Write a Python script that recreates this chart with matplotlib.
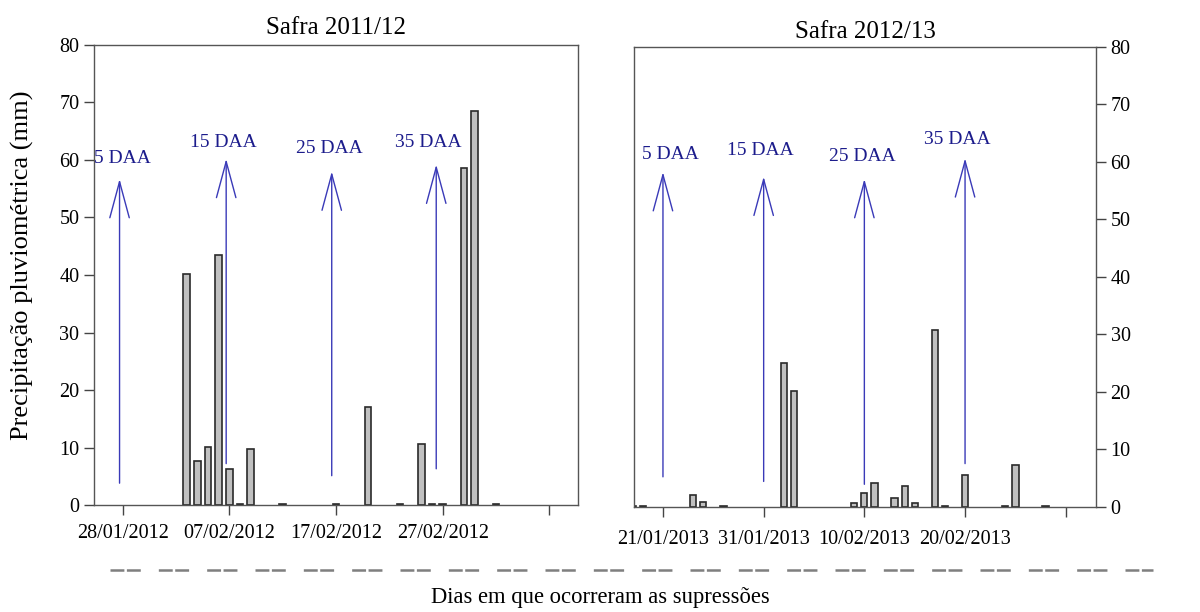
import numpy as np
import pandas as pd
import matplotlib
matplotlib.use('Agg')
import matplotlib.pyplot as plt
from matplotlib.lines import Line2D

plt.rcParams['font.family'] = ['Liberation Serif', 'DejaVu Serif']

# Safra 2011/12 - chuva diaria (mm)
datas_1112 = ['03/02/2012', '04/02/2012', '05/02/2012', '06/02/2012', '07/02/2012',
              '08/02/2012', '09/02/2012', '12/02/2012', '17/02/2012', '20/02/2012',
              '23/02/2012', '25/02/2012', '26/02/2012', '27/02/2012', '29/02/2012',
              '01/03/2012', '03/03/2012']
chuva_1112 = [40.1, 7.6, 10.1, 43.4, 6.2, 0.2, 9.7, 0.2, 0.2, 17.0,
              0.2, 10.6, 0.2, 0.2, 58.6, 68.6, 0.2]

# Safra 2012/13 - chuva diaria (mm)
datas_1213 = ['18/01/2013', '19/01/2013', '24/01/2013', '25/01/2013', '27/01/2013',
              '02/02/2013', '03/02/2013', '09/02/2013', '10/02/2013', '11/02/2013',
              '13/02/2013', '14/02/2013', '15/02/2013', '17/02/2013', '18/02/2013',
              '20/02/2013', '24/02/2013', '25/02/2013', '28/02/2013']
chuva_1213 = [0.2, 0.2, 2.0, 0.8, 0.2, 25.0, 20.2, 0.6, 2.4, 4.1,
              1.6, 3.6, 0.6, 30.8, 0.2, 5.6, 0.2, 7.2, 0.2]

# ticks do eixo x
ticks_1112 = ['28/01/2012', '07/02/2012', '17/02/2012', '27/02/2012', '08/03/2012']
ticks_1213 = ['21/01/2013', '31/01/2013', '10/02/2013', '20/02/2013', '02/03/2013']

# setas das supressoes (DAA): posicao em dias a partir do 1o tick, base, topo
daa_labels = ['5 DAA', '15 DAA', '25 DAA', '35 DAA']
seta_x_1112 = [-0.3, 9.7, 19.6, 29.4]
seta_base_1112 = [3.8, 7.2, 5.1, 6.3]
seta_topo_1112 = [56.7, 60.2, 58.0, 59.2]
txt_x_1112 = [0.0, 9.4, 19.4, 28.7]
txt_y_1112 = [60.3, 63.0, 62.0, 63.0]

seta_x_1213 = [0.0, 10.0, 20.0, 30.0]
seta_base_1213 = [5.2, 4.4, 3.9, 7.5]
seta_topo_1213 = [58.2, 57.4, 57.0, 60.6]
txt_x_1213 = [0.7, 9.7, 19.8, 29.2]
txt_y_1213 = [61.3, 62.0, 60.9, 63.8]


def dias(datas, origem):
    d = pd.to_datetime(datas, dayfirst=True)
    return np.asarray((d - pd.to_datetime(origem, dayfirst=True)).days, dtype=float)


fig = plt.figure(figsize=(12, 6.12), dpi=100)
ax1 = fig.add_axes([0.0783, 0.1748, 0.4034, 0.7517])
ax2 = fig.add_axes([0.5283, 0.1720, 0.3850, 0.7517])

paineis = [
    (ax1, datas_1112, chuva_1112, ticks_1112, 'Safra 2011/12',
     seta_x_1112, seta_base_1112, seta_topo_1112, txt_x_1112, txt_y_1112, (-2.7, 42.7), 7, 8),
    (ax2, datas_1213, chuva_1213, ticks_1213, 'Safra 2012/13',
     seta_x_1213, seta_base_1213, seta_topo_1213, txt_x_1213, txt_y_1213, (-2.88, 43.0), 9.5, 6),
]

for ax, datas, chuva, ticks, titulo, sx, sb, st, tx, ty, xl, xpad, tpad in paineis:
    x = dias(datas, ticks[0])
    ax.bar(x, chuva, width=0.62, color='#c0c0c0', edgecolor='#2a2a2a', linewidth=1.2)
    xt = dias(ticks, ticks[0])
    ax.set_xticks(xt)
    ax.set_xticklabels(ticks[:-1] + [''], fontsize=14.5)
    ax.set_xlim(*xl)
    ax.set_ylim(0, 80)
    ax.set_yticks(range(0, 81, 10))
    ax.tick_params(axis='both', direction='out', length=7, width=1, colors='#444444',
                   labelcolor='black', labelsize=14.5)
    ax.tick_params(axis='x', pad=xpad)
    for s in ax.spines.values():
        s.set_color('#555555')
        s.set_linewidth(1.0)
    ax.set_title(titulo, fontsize=18, pad=tpad)
    for i in range(4):
        ax.annotate('', xy=(sx[i], st[i]), xytext=(sx[i], sb[i]),
                    arrowprops=dict(arrowstyle='->,head_length=2.6,head_width=0.7',
                                    mutation_scale=10, color='#3a3ab8', lw=1.0,
                                    shrinkA=0, shrinkB=0))
        ax.text(tx[i], ty[i], daa_labels[i], ha='center', va='center',
                fontsize=14, color='#1c1c8c')

ax2.yaxis.tick_right()

fig.text(22 / 1200, 1 - 265 / 612, 'Precipitação pluviométrica (mm)', rotation=90,
         ha='center', va='center', fontsize=19)

# linha tracejada e rotulo do eixo x
lw = 1.8
fig.add_artist(Line2D([110 / 1200, 1153 / 1200], [1 - 570 / 612, 1 - 570 / 612],
                      color='#7f7f7f', lw=lw,
                      dashes=(10 / lw, 1.8 / lw, 10 / lw, 13 / lw)))
fig.text(0.5, 1 - 597 / 612, 'Dias em que ocorreram as supressões',
         ha='center', va='center', fontsize=16.3)

fig.savefig('out.png', dpi=100)
